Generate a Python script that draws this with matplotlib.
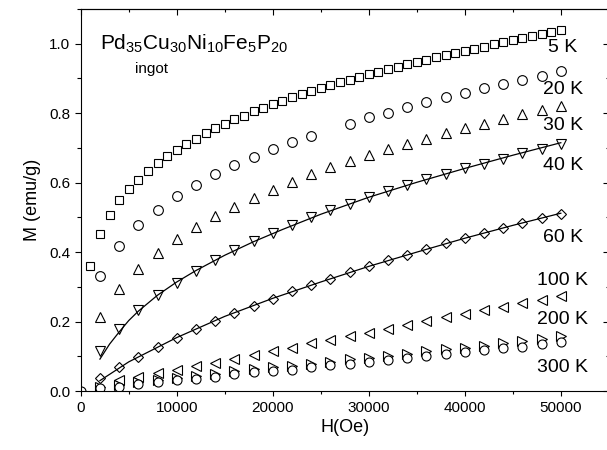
import matplotlib
matplotlib.use("Agg")
import matplotlib.pyplot as plt
from matplotlib.ticker import MultipleLocator

plt.rcParams['font.family'] = ['Liberation Sans', 'DejaVu Sans']
plt.rcParams['mathtext.fontset'] = 'custom'
plt.rcParams['mathtext.rm'] = 'Liberation Sans'
plt.rcParams['mathtext.it'] = 'Liberation Sans'

# field values (Oe)
H_5K = [1000, 2000, 3000, 4000, 5000, 6000, 7000, 8000, 9000, 10000,
        11000, 12000, 13000, 14000, 15000, 16000, 17000, 18000, 19000, 20000,
        21000, 22000, 23000, 24000, 25000, 26000, 27000, 28000, 29000, 30000,
        31000, 32000, 33000, 34000, 35000, 36000, 37000, 38000, 39000, 40000,
        41000, 42000, 43000, 44000, 45000, 46000, 47000, 48000, 49000, 50000]
H_2k = [2000, 4000, 6000, 8000, 10000, 12000, 14000, 16000, 18000, 20000,
        22000, 24000, 26000, 28000, 30000, 32000, 34000, 36000, 38000, 40000,
        42000, 44000, 46000, 48000, 50000]
H_20K = [2000, 4000, 6000, 8000, 10000, 12000, 14000, 16000, 18000, 20000,
         22000, 24000, 28000, 30000, 32000, 34000, 36000, 38000, 40000,
         42000, 44000, 46000, 48000, 50000]
H_100K = [4000, 6000, 8000, 10000, 12000, 14000, 16000, 18000, 20000,
          22000, 24000, 26000, 28000, 30000, 32000, 34000, 36000, 38000, 40000,
          42000, 44000, 46000, 48000, 50000]
H_300K = [0, 2000, 4000, 6000, 8000, 10000, 12000, 14000, 16000, 18000, 20000,
          22000, 24000, 26000, 28000, 30000, 32000, 34000, 36000, 38000, 40000,
          42000, 44000, 46000, 48000, 50000]

# magnetization (emu/g)
M_5K = [0.359, 0.451, 0.506, 0.549, 0.582, 0.608, 0.634, 0.657, 0.677, 0.695,
        0.712, 0.727, 0.743, 0.756, 0.769, 0.782, 0.793, 0.805, 0.815, 0.826,
        0.836, 0.846, 0.856, 0.864, 0.873, 0.881, 0.889, 0.897, 0.905, 0.913,
        0.920, 0.927, 0.934, 0.941, 0.948, 0.954, 0.961, 0.967, 0.974, 0.980,
        0.986, 0.992, 0.998, 1.004, 1.010, 1.016, 1.022, 1.028, 1.034, 1.040]
M_20K = [0.331, 0.417, 0.477, 0.522, 0.561, 0.593, 0.624, 0.650, 0.674, 0.696,
         0.716, 0.735, 0.769, 0.788, 0.802, 0.818, 0.833, 0.846, 0.859,
         0.872, 0.885, 0.897, 0.908, 0.921]
M_30K = [0.213, 0.293, 0.351, 0.398, 0.438, 0.472, 0.503, 0.531, 0.556, 0.580,
         0.602, 0.624, 0.644, 0.661, 0.680, 0.697, 0.712, 0.727, 0.742, 0.757,
         0.770, 0.784, 0.797, 0.810, 0.822]
M_40K = [0.115, 0.178, 0.233, 0.276, 0.312, 0.347, 0.376, 0.405, 0.431, 0.454,
         0.479, 0.500, 0.520, 0.539, 0.560, 0.577, 0.593, 0.610, 0.626, 0.641,
         0.655, 0.669, 0.684, 0.698, 0.711]
M_60K = [0.037, 0.068, 0.099, 0.126, 0.154, 0.178, 0.203, 0.225, 0.246, 0.266,
         0.287, 0.305, 0.324, 0.344, 0.361, 0.377, 0.393, 0.410, 0.425, 0.440,
         0.455, 0.469, 0.483, 0.497, 0.510]
M_100K = [0.032, 0.041, 0.053, 0.060, 0.072, 0.081, 0.092, 0.104, 0.115,
          0.125, 0.137, 0.146, 0.159, 0.168, 0.180, 0.191, 0.201, 0.212, 0.223,
          0.233, 0.242, 0.253, 0.263, 0.273]
M_200K = [0.012, 0.018, 0.025, 0.032, 0.039, 0.044, 0.050, 0.057, 0.063, 0.068,
          0.073, 0.079, 0.085, 0.092, 0.096, 0.101, 0.108, 0.114, 0.120, 0.125,
          0.131, 0.137, 0.143, 0.150, 0.158]
M_300K = [0.000, 0.008, 0.012, 0.019, 0.025, 0.032, 0.035, 0.041, 0.048, 0.054,
          0.058, 0.062, 0.068, 0.074, 0.078, 0.083, 0.089, 0.094, 0.100, 0.106,
          0.112, 0.118, 0.123, 0.128, 0.135, 0.140]

# fitted curves
H_fit40 = [2000, 3000, 4000, 5000, 6000, 8000, 10000, 12000, 15000, 18000,
           21000, 25000, 30000, 35000, 40000, 45000, 50000]
M_fit40 = [0.092, 0.135, 0.170, 0.203, 0.230, 0.276, 0.314, 0.347, 0.391, 0.430,
           0.465, 0.509, 0.558, 0.601, 0.641, 0.679, 0.715]
H_fit60 = [2000, 5000, 10000, 15000, 20000, 25000, 30000, 35000, 40000, 45000, 50000]
M_fit60 = [0.030, 0.084, 0.154, 0.215, 0.267, 0.314, 0.359, 0.400, 0.440, 0.477, 0.512]

temp_labels = ['5 K', '20 K', '30 K', '40 K', '60 K', '100 K', '200 K', '300 K']
label_y = [0.988, 0.867, 0.764, 0.649, 0.442, 0.319, 0.207, 0.069]

fig = plt.figure(figsize=(6.07, 4.5), dpi=100)
ax = fig.add_axes([0.133, 0.131, 0.870, 0.849])

mk = dict(linestyle='none', color='black', mfc='white', mew=0.8)
ax.plot(H_5K, M_5K, marker='s', ms=6, **mk)
ax.plot(H_20K, M_20K, marker='o', ms=7, **mk)
ax.plot(H_2k, M_30K, marker='^', ms=7.5, **mk)
ax.plot(H_2k, M_40K, marker='v', ms=7.5, **mk)
ax.plot(H_2k, M_60K, marker='D', ms=5.2, **mk)
ax.plot(H_100K, M_100K, marker='<', ms=7.5, **mk)
ax.plot(H_2k, M_200K, marker='>', ms=7, **mk)
ax.plot(H_300K, M_300K, marker='o', ms=6.5, **mk)

ax.plot(H_fit40, M_fit40, color='black', lw=0.9, zorder=3)
ax.plot(H_fit60, M_fit60, color='black', lw=0.9, zorder=3)

for lab, yy in zip(temp_labels, label_y):
    ax.text(50200, yy, lab, fontsize=14, ha='center', va='center')

ax.text(2000, 0.999, r'$\mathregular{Pd_{35}Cu_{30}Ni_{10}Fe_{5}P_{20}}$',
        fontsize=15, ha='left', va='center')
ax.text(7400, 0.927, 'ingot', fontsize=11, ha='center', va='center')

ax.set_xlim(0, 55000)
ax.set_ylim(0, 1.1)
ax.xaxis.set_major_locator(MultipleLocator(10000))
ax.xaxis.set_minor_locator(MultipleLocator(5000))
ax.yaxis.set_major_locator(MultipleLocator(0.2))
ax.yaxis.set_minor_locator(MultipleLocator(0.1))
ax.yaxis.set_major_formatter(matplotlib.ticker.FormatStrFormatter('%.1f'))
ax.tick_params(which='both', direction='out', width=0.8, labelsize=11)
ax.tick_params(axis='x', which='major', length=3.5)
ax.tick_params(axis='x', which='minor', length=2.5)
ax.tick_params(axis='y', which='major', length=4.5, pad=3)
ax.tick_params(axis='y', which='minor', length=3)
for s in ax.spines.values():
    s.set_linewidth(0.8)

# ticks on top/right pointing inward
top = ax.secondary_xaxis('top')
top.xaxis.set_major_locator(MultipleLocator(10000))
top.xaxis.set_minor_locator(MultipleLocator(5000))
top.tick_params(which='both', direction='in', labeltop=False, width=0.8)
top.tick_params(which='major', length=4)
top.tick_params(which='minor', length=2.5)
right = ax.secondary_yaxis('right')
right.yaxis.set_major_locator(MultipleLocator(0.2))
right.yaxis.set_minor_locator(MultipleLocator(0.1))
right.tick_params(which='both', direction='in', labelright=False, width=0.8)
right.tick_params(which='major', length=4)
right.tick_params(which='minor', length=2.5)

ax.set_xlabel('H(Oe)', fontsize=13, labelpad=3)
ax.set_ylabel('M (emu/g)', fontsize=13, labelpad=6)

fig.savefig('out.png', dpi=100)
